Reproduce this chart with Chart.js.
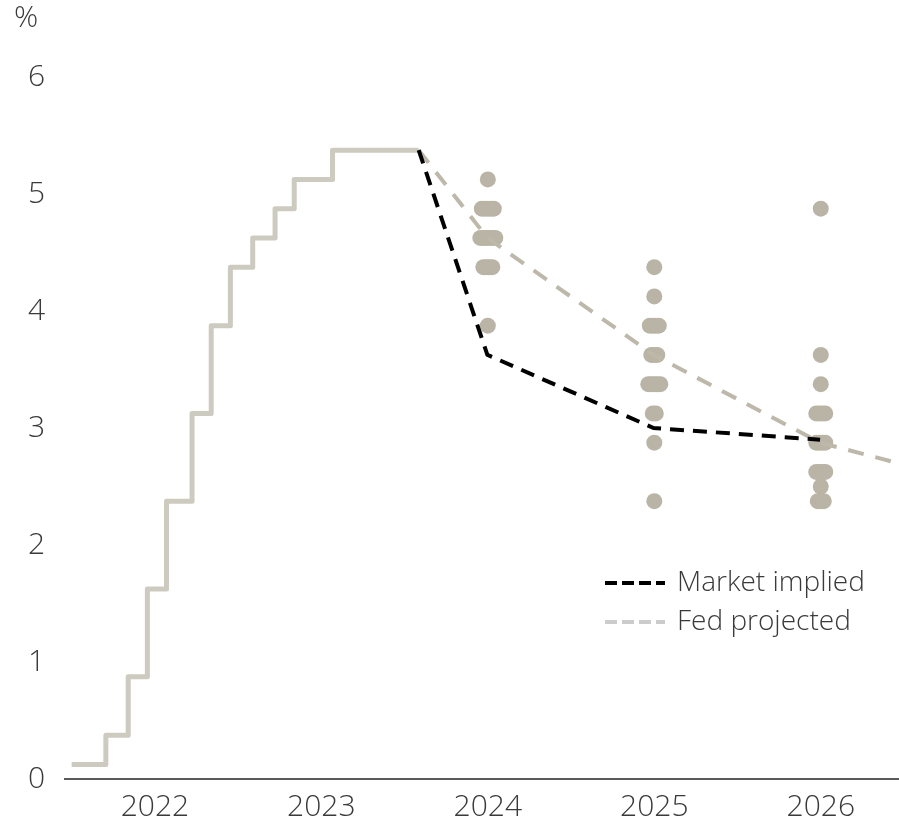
<!DOCTYPE html>
<html>
<head>
<meta charset="utf-8">
<script src="https://cdn.jsdelivr.net/npm/chart.js@4/dist/chart.umd.min.js"></script>
<style>
  html, body { margin: 0; padding: 0; background: #fff; overflow: hidden; }
  #wrap { width: 899px; height: 822px; position: relative; }
  canvas { display: block; }
</style>
</head>
<body>
<div id="wrap"><canvas id="rateChart"></canvas></div>
<script>
// fed funds target midpoint, each move (last point = today)
const policyDates = ['2022-01-01', '2022-03-17', '2022-05-05', '2022-06-16', '2022-07-28', '2022-09-22',
  '2022-11-03', '2022-12-15', '2023-02-02', '2023-03-23', '2023-05-04', '2023-07-27', '2024-02-01']
const policyRates = [0.125, 0.375, 0.875, 1.625, 2.375, 3.125, 3.875, 4.375, 4.625, 4.875, 5.125, 5.375, 5.375]

// projection paths (start today, then mid-year of each year, then longer run)
const pathDates = ['2024-02-01', '2024-07-01', '2025-07-01', '2026-07-01', '2027-07-01']
const marketImplied = [5.375, 3.625, 3.0, 2.9]
const fedProjected = [5.375, 4.625, 3.625, 2.875, 2.5]

// FOMC dot plot
const dotYears = ['2024', '2025', '2026']
const dotRates = [
  [5.125, 4.875, 4.625, 4.375, 3.875],
  [4.375, 4.125, 3.875, 3.625, 3.375, 3.125, 2.875, 2.375],
  [4.875, 3.625, 3.375, 3.125, 2.875, 2.625, 2.5, 2.375],
]
const dotCounts = [
  [1, 5, 6, 4, 1],
  [1, 1, 4, 3, 5, 2, 1, 1],
  [1, 1, 1, 4, 4, 4, 1, 3],
]

const yearLabels = ['2022', '2023', '2024', '2025', '2026']

const FONT = '"Open Sans", "Noto Sans", sans-serif'
const TEXT = '#3a3a3a'

// date string -> decimal year
const toYear = function (s) {
  const d = new Date(s + 'T00:00:00Z')
  const y = d.getUTCFullYear()
  const start = Date.UTC(y, 0, 1)
  const end = Date.UTC(y + 1, 0, 1)
  return y + (d.getTime() - start) / (end - start)
}

const policyPts = policyDates.map((d, i) => ({ x: toYear(d), y: policyRates[i] }))
const marketPts = marketImplied.map((v, i) => ({ x: toYear(pathDates[i]), y: v }))
const fedPts = fedProjected.map((v, i) => ({ x: toYear(pathDates[i]), y: v }))

// dots of the same rate spread a little sideways
const dotPts = []
dotYears.forEach((yr, k) => {
  const cx = Number(yr) + 0.5
  dotRates[k].forEach((r, j) => {
    const n = dotCounts[k][j]
    for (let i = 0; i < n; i++) {
      dotPts.push({ x: cx + (i - (n - 1) / 2) * 0.018, y: r })
    }
  })
})

// legend + % label
const extras = {
  id: 'extras',
  afterDraw(chart) {
    const c = chart.ctx
    c.save()
    c.font = '300 30px ' + FONT
    c.fillStyle = TEXT
    c.textBaseline = 'middle'
    c.textAlign = 'left'
    c.fillText('%', 14, 18)

    const items = [
      { label: 'Market implied', color: '#000000', y: 583 },
      { label: 'Fed projected', color: '#cccccc', y: 622 },
    ]
    items.forEach((it) => {
      c.strokeStyle = it.color
      c.lineWidth = 4
      c.setLineDash([12, 5])
      c.beginPath()
      c.moveTo(605, it.y)
      c.lineTo(665, it.y)
      c.stroke()
      c.setLineDash([])
      c.font = '300 28px ' + FONT
      c.fillStyle = TEXT
      c.fillText(it.label, 677, it.y)
    })
    c.restore()
  },
}

const ctx = document.getElementById('rateChart').getContext('2d')

const rateChart = new Chart(ctx, {
  type: 'scatter',
  data: {
    datasets: [
      {
        label: 'Market implied',
        data: marketPts,
        showLine: true,
        borderColor: '#000000',
        borderWidth: 4,
        borderDash: [14, 9],
        pointRadius: 0,
        tension: 0,
      },
      {
        label: 'Fed projected',
        data: fedPts,
        showLine: true,
        borderColor: '#bdb8aa',
        borderWidth: 4,
        borderDash: [16, 12],
        pointRadius: 0,
        tension: 0,
      },
      {
        label: 'Fed funds',
        data: policyPts,
        showLine: true,
        stepped: 'before',
        borderColor: '#cdcbbf',
        borderWidth: 5,
        borderJoinStyle: 'round',
        pointRadius: 0,
      },
      {
        label: 'FOMC dots',
        data: dotPts,
        backgroundColor: '#b9b4a5',
        borderWidth: 0,
        pointRadius: 8,
        pointHoverRadius: 8,
      },
    ],
  },
  options: {
    responsive: true,
    maintainAspectRatio: false,
    animation: false,
    layout: { autoPadding: false, padding: { top: 77, right: 0, left: 0, bottom: 0 } },
    plugins: {
      legend: { display: false },
      tooltip: { enabled: false },
    },
    scales: {
      x: {
        type: 'linear',
        min: 2021.96,
        max: 2026.97,
        grid: { display: false, drawTicks: false },
        border: { display: true, color: '#5a5a5a', width: 2 },
        afterBuildTicks: (scale) => {
          scale.ticks = yearLabels.map((y) => ({ value: Number(y) + 0.5 }))
        },
        ticks: {
          autoSkip: false,
          maxRotation: 0,
          padding: 10,
          color: TEXT,
          font: { family: FONT, size: 30, weight: 300 },
          callback: (v) => String(Math.floor(v)),
        },
        afterFit: (scale) => {
          scale.height = 43
        },
      },
      y: {
        min: 0,
        max: 6,
        grid: { display: false, drawTicks: false },
        border: { display: false },
        ticks: {
          stepSize: 1,
          padding: 20,
          color: TEXT,
          font: { family: FONT, size: 30, weight: 300 },
        },
        afterFit: (scale) => {
          scale.width = 65
        },
      },
    },
  },
  plugins: [extras],
})
</script>
</body>
</html>
